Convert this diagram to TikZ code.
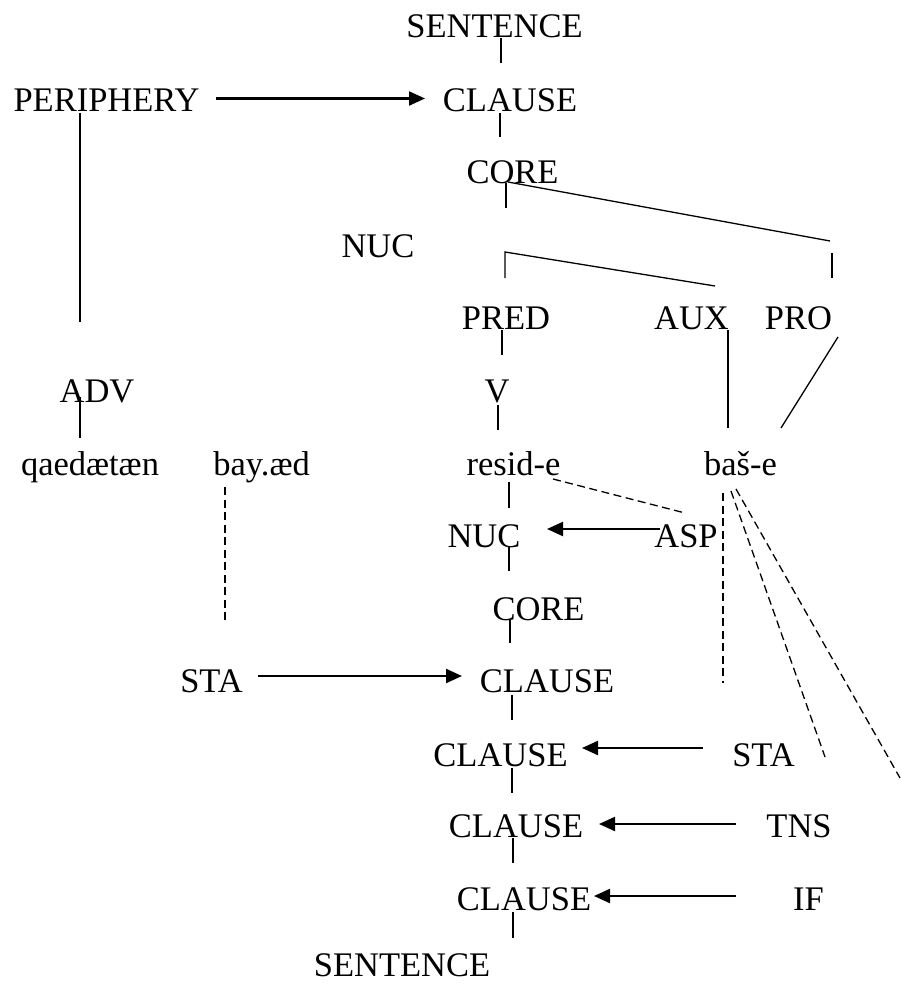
\documentclass[tikz,border=0pt]{standalone}
\usepackage{fontspec}
\setmainfont{Liberation Serif}
\usetikzlibrary{arrows.meta}
\begin{document}
\begin{tikzpicture}[x=1pt,y=-1pt,
  lbl/.style={anchor=base,inner sep=0pt,outer sep=0pt,font=\fontsize{34.5}{40}\selectfont},
  ln/.style={line width=1.3pt},
  dl/.style={line width=1.3pt,dash pattern=on 8pt off 4.5pt},
  arr/.style={line width=2.2pt,-{Triangle[length=16pt,width=14pt]}}]
\useasboundingbox (0,0) rectangle (900,984);
% nodes
\node[lbl] (s1) at (494.5,38) {SENTENCE};
\node[lbl] (peri) at (106.5,112) {PERIPHERY};
\node[lbl] (cl1) at (510,112) {CLAUSE};
\node[lbl] (core1) at (512.5,184) {CORE};
\node[lbl] (nuc1) at (378,257) {NUC};
\node[lbl] (pred) at (506,329) {PRED};
\node[lbl] (aux) at (691.5,329) {AUX};
\node[lbl] (pro) at (798.5,329) {PRO};
\node[lbl] (adv) at (97,402) {ADV};
\node[lbl] (v) at (497,402) {V};
\node[lbl] (w1) at (90,475) {qaedætæn};
\node[lbl] (w2) at (261.5,475) {bay.æd};
\node[lbl] (w3) at (513.5,475) {resid-e};
\node[lbl] (w4) at (740.5,475) {baš-e};
\node[lbl] (nuc2) at (484,547) {NUC};
\node[lbl] (asp) at (686,547) {ASP};
\node[lbl] (core2) at (538.5,620) {CORE};
\node[lbl] (sta1) at (211.5,692) {STA};
\node[lbl] (cl2) at (547,692) {CLAUSE};
\node[lbl] (cl3) at (500.5,766) {CLAUSE};
\node[lbl] (sta2) at (763.5,766) {STA};
\node[lbl] (cl4) at (516,837) {CLAUSE};
\node[lbl] (tns) at (799,837) {TNS};
\node[lbl] (cl5) at (524,910) {CLAUSE};
\node[lbl] (iff) at (808.5,910) {IF};
\node[lbl] (s2) at (402,976) {SENTENCE};
% solid tree lines
\draw[ln] ([shift={(6.5,0)}]s1.base) -- ([shift={(-9,-49)}]cl1.base);
\draw[ln] ([shift={(-10,1)}]cl1.base) -- ([shift={(-12.5,-47)}]core1.base);
\draw[ln] ([shift={(-6.5,-1)}]core1.base) -- ([shift={(128,-49)}]nuc1.base);
\draw[ln] ([shift={(-4.5,-2)}]core1.base) -- ([shift={(31.5,-88)}]pro.base);
\draw[ln] ([shift={(-1,-51)}]pred.base) -- ([shift={(127,-5)}]nuc1.base) -- ([shift={(23.5,-43)}]aux.base);
\draw[ln] ([shift={(33.5,-76)}]pro.base) -- ([shift={(33.5,-51)}]pro.base);
\draw[ln] ([shift={(-26.5,1)}]peri.base) -- ([shift={(-17,-80)}]adv.base);
\draw[ln] ([shift={(-4,1)}]pred.base) -- ([shift={(5,-47)}]v.base);
\draw[ln] ([shift={(36.5,1)}]aux.base) -- ([shift={(-12.5,-47)}]w4.base);
\draw[ln] ([shift={(39.5,8)}]pro.base) -- ([shift={(40.5,-47)}]w4.base);
\draw[ln] ([shift={(-17,-5)}]adv.base) -- ([shift={(-10,-37)}]w1.base);
\draw[ln] ([shift={(1,3)}]v.base) -- ([shift={(-15.5,-45)}]w3.base);
\draw[ln] ([shift={(-4.5,7)}]w3.base) -- ([shift={(25,-39)}]nuc2.base);
\draw[ln] ([shift={(25,0)}]nuc2.base) -- ([shift={(-29.5,-49)}]core2.base);
\draw[ln] ([shift={(-28.5,0)}]core2.base) -- ([shift={(-37,-49)}]cl2.base);
\draw[ln] ([shift={(-35,3)}]cl2.base) -- ([shift={(11.5,-46)}]cl3.base);
\draw[ln] ([shift={(11.5,2)}]cl3.base) -- ([shift={(-4,-44)}]cl4.base);
\draw[ln] ([shift={(-3,1)}]cl4.base) -- ([shift={(-11,-47)}]cl5.base);
\draw[ln] ([shift={(-11,2)}]cl5.base) -- ([shift={(111,-38)}]s2.base);
% dashed lines
\draw[dl] ([shift={(-36.5,12)}]w2.base) -- ([shift={(13.5,-70)}]sta1.base);
\draw[dl] ([shift={(39.5,4)}]w3.base) -- ([shift={(-1,-34)}]asp.base);
\draw[dl] ([shift={(-17.5,18)}]w4.base) -- ([shift={(-40.5,-83)}]sta2.base);
\draw[dl] ([shift={(-9.5,16)}]w4.base) -- ([shift={(61.5,-9)}]sta2.base);
\draw[dl] ([shift={(-4.5,14)}]w4.base) -- ([shift={(101,-59)}]tns.base);
% arrows
\draw[arr] ([shift={(109.5,-13.5)}]peri.base) -- ([shift={(-85,-13.5)}]cl1.base);
\draw[arr] ([shift={(-26,-18)}]asp.base) -- ([shift={(63,-18)}]nuc2.base);
\draw[arr] ([shift={(46.5,-16)}]sta1.base) -- ([shift={(-85,-16)}]cl2.base);
\draw[arr] ([shift={(-60.5,-18)}]sta2.base) -- ([shift={(81.5,-18)}]cl3.base);
\draw[arr] ([shift={(-63,-13)}]tns.base) -- ([shift={(83,-13)}]cl4.base);
\draw[arr] ([shift={(-72.5,-14)}]iff.base) -- ([shift={(70,-14)}]cl5.base);
\end{tikzpicture}
\end{document}
